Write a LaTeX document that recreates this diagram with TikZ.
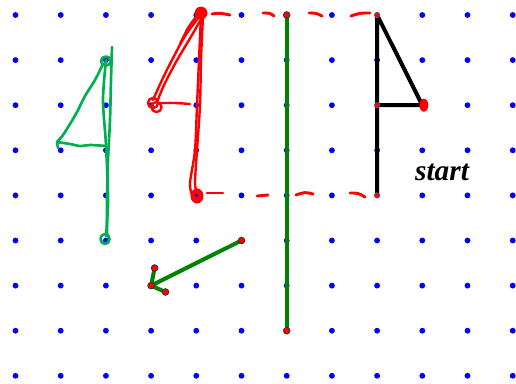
\documentclass[tikz,border=0pt]{standalone}
\usepackage{fontspec}
\newfontfamily\startfont{Liberation Serif}
\definecolor{dotblue}{RGB}{0,0,255}
\definecolor{penred}{RGB}{255,0,0}
\definecolor{pengreen}{RGB}{0,176,80}
\definecolor{linegreen}{RGB}{0,130,0}
\tikzset{
  griddot/.style={fill=dotblue},
  enddot/.style={circle,fill=penred,draw=black!80,line width=0.6pt,inner sep=0pt,minimum size=5pt},
  smalldot/.style={circle,fill=penred,draw=black!60,line width=0.4pt,inner sep=0pt,minimum size=4pt},
  redpen/.style={draw=penred,line width=1.8pt,line cap=round,line join=round},
  greenpen/.style={draw=pengreen,line width=2pt,line cap=round,line join=round},
  thickgreen/.style={draw=linegreen,line width=3pt},
  thickblack/.style={draw=black,line width=3pt},
  dashstroke/.style={draw=penred,line width=2.2pt,line cap=round}
}
\begin{document}
\begin{tikzpicture}[x=0.75pt,y=-0.75pt]
\useasboundingbox (0,0) rectangle (516,383);
\fill[white] (0,0) rectangle (516,383);
% grid of dots
\foreach \i in {0,...,11}
  \foreach \j in {0,...,8}
    \fill[griddot] ({15.5+45.2*\i},{15+45.1*\j}) circle[radius=2.2pt];
% coordinates
\coordinate (gTop) at (286.7,15);
\coordinate (gBot) at (286.7,330.7);
\coordinate (bTop) at (377.1,15);
\coordinate (bMid) at (377.1,105.2);
\coordinate (bBot) at (377.1,195.4);
\coordinate (bTip) at (422.3,105.2);
\coordinate (aStart) at (241.5,240.5);
\coordinate (aTip) at (151.1,285.6);
\coordinate (aH1) at (154.6,268);
\coordinate (aH2) at (165.5,292);
% green vertical line
\draw[thickgreen] (gTop) -- (gBot);
% black figure
\draw[thickblack,line join=round] (bBot) -- (bTop) -- (bTip) -- (bMid);
% arrow
\draw[thickgreen,line cap=round] (aStart) -- (aTip);
\draw[thickgreen,line cap=round] (aH1) -- (aTip) -- (aH2);
% end dots
\foreach \p in {gTop,gBot,aStart,aTip,aH1,aH2}
  \node[enddot] at (\p) {};
\foreach \p in {bTop,bMid,bBot}
  \node[smalldot] at (\p) {};
\fill[penred] (bTip) ++(1.5,0) ellipse[x radius=4.5,y radius=6.5];
% red dashed frame (hand drawn)
\draw[dashstroke] (212,14) .. controls (220,13) .. (230,15);
\draw[dashstroke] (263,13) .. controls (270,13) .. (274,16);
\draw[dashstroke] (309,13) .. controls (316,13) .. (322,16);
\draw[dashstroke] (351,16) .. controls (360,13) .. (370,13);
\draw[dashstroke] (207,193) -- (223,193);
\draw[dashstroke] (257,196) -- (268,195);
\draw[dashstroke] (296,195) .. controls (305,192) .. (313,194);
\draw[dashstroke] (350,193) .. controls (358,193) .. (365,197);
% red handwritten 4
\fill[penred] (201,13) circle[radius=4.8pt];
\draw[redpen] plot[smooth] coordinates {(199,17) (185,36) (172,60) (162,80) (153,100)};
\draw[redpen] plot[smooth] coordinates {(203,16) (189,40) (176,62) (164,85) (157,102)};
\draw[redpen] plot[smooth] coordinates {(196,17) (188,28) (180,44)};
\draw[redpen] (153,103) circle[radius=3.8pt];
\draw[redpen] (156.5,107) circle[radius=3.8pt];
\draw[redpen] plot[smooth] coordinates {(160,103) (175,103) (190,104)};
\draw[redpen] plot[smooth] coordinates {(201,14) (199,60) (197,105) (195,150) (190,183) (192,195)};
\draw[redpen] plot[smooth] coordinates {(203,16) (201,60) (200,105) (197,150) (195,183) (197,192)};
\fill[penred] (197,196) ellipse[x radius=6.5,y radius=7.5];
\fill[dotblue] (196.3,195.5) circle[radius=1.2pt];
% green handwritten 4
\draw[greenpen] plot[smooth] coordinates {(112,47) (111,80) (110,120) (108,160) (107,200) (107,236)};
\draw[greenpen] plot[smooth] coordinates {(106,60) (103,100) (106,145) (108,200) (106,236)};
\draw[greenpen] (106,61) ellipse[x radius=5,y radius=4.5];
\draw[greenpen] (105,239) ellipse[x radius=4.5,y radius=5];
\draw[greenpen] plot[smooth] coordinates {(103,64) (95,80) (85,96) (77,112) (70,124) (63,135) (57,142)};
\draw[greenpen] plot[smooth] coordinates {(57,142) (70,144) (80,146) (90,145) (106,146)};
\draw[greenpen] (57,142) -- (58,148);
% label
\node[font=\startfont\bfseries\itshape\fontsize{22}{24}\selectfont] (lbl) at (442,172) {start};
\end{tikzpicture}
\end{document}
